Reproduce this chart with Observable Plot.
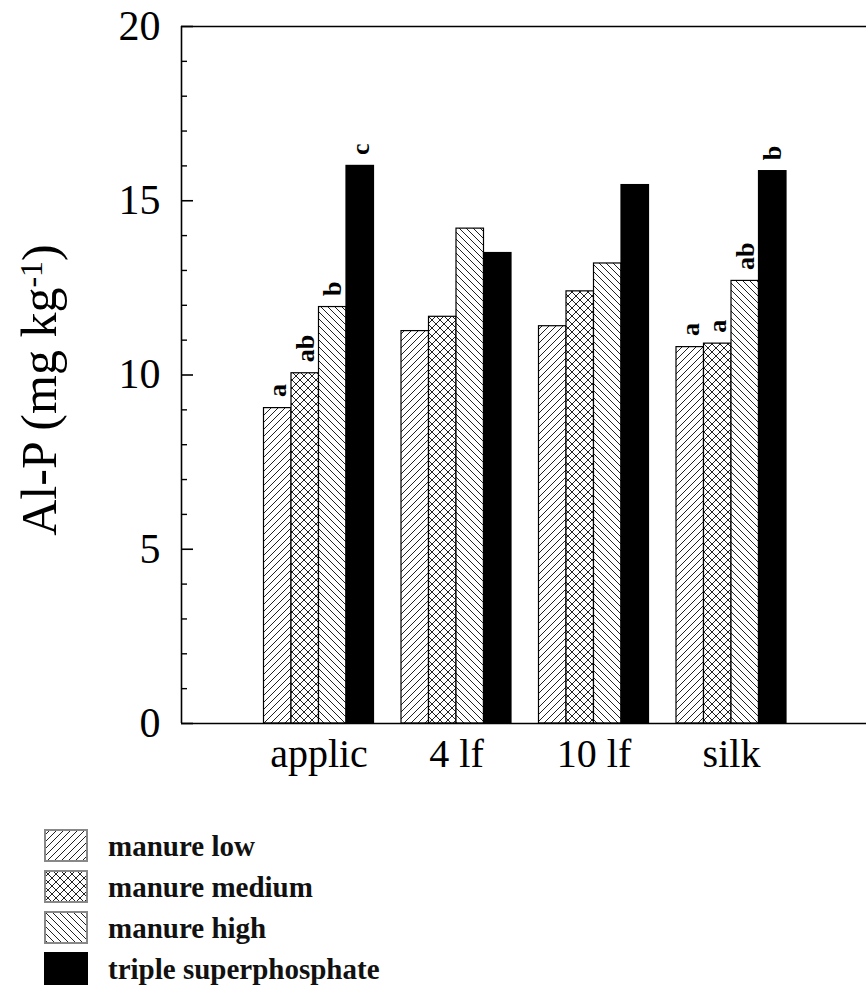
<!DOCTYPE html>
<html>
<head>
<meta charset="utf-8">
<script src="https://cdn.jsdelivr.net/npm/d3@7"></script>
<script src="https://cdn.jsdelivr.net/npm/@observablehq/plot@0.6"></script>
<style>
  html, body { margin: 0; padding: 0; background: #fff; }
  #wrap { position: relative; width: 866px; height: 994px; overflow: hidden; }
  #legend { position: absolute; left: 44px; top: 829px; }
  .row { display: flex; align-items: flex-start; height: 41px; }
  .row svg { display: block; }
  .row span { margin-left: 20px; font: bold 29px "Liberation Serif", serif; color: #111; line-height: 29px; margin-top: 3px; white-space: nowrap; }
</style>
</head>
<body>
<div id="wrap"><div id="chart"></div><div id="legend"></div></div>
<script>
// ---- data ----
const groups = ["applic", "4 lf", "10 lf", "silk"];
const series = ["manure low", "manure medium", "manure high", "triple superphosphate"];
const manureLow    = [9.05, 11.26, 11.40, 10.80];
const manureMedium = [10.05, 11.67, 12.40, 10.90];
const manureHigh   = [11.95, 14.20, 13.20, 12.70];
const tsp          = [16.00, 13.50, 15.45, 15.85];
const lettersLow    = ["a", "", "", "a"];
const lettersMedium = ["ab", "", "", "a"];
const lettersHigh   = ["b", "", "", "ab"];
const lettersTsp    = ["c", "", "", "b"];
const yMajorTicks = [0, 5, 10, 15, 20];
const yMinorTicks = [1, 2, 3, 4, 6, 7, 8, 9, 11, 12, 13, 14, 16, 17, 18, 19];
const yLabel = "Al-P (mg kg";
const yLabelSup = "-1";

// ---- table ----
const seriesValues = [manureLow, manureMedium, manureHigh, tsp];
const seriesLetters = [lettersLow, lettersMedium, lettersHigh, lettersTsp];
const patternIds = ["p-low", "p-med", "p-high", null];
const fills = patternIds.map(id => id ? `url(#${id})` : "black");
const rows = groups.flatMap((g, gi) => series.map((s, si) => ({
  group: g, gi, series: s, si,
  value: seriesValues[si][gi],
  letter: seriesLetters[si][gi]
})));
// dodge within a group: group k is centred on k+1, each bar 0.2 wide
const barX1 = d => d.gi + 1 - 0.4 + d.si * 0.2;
const barX2 = d => barX1(d) + 0.2;
const barXc = d => barX1(d) + 0.1;

const chart = Plot.plot({
  width: 866,
  height: 795,
  marginLeft: 181,
  marginRight: 0,
  marginTop: 26,
  marginBottom: 72,
  style: { fontFamily: "Liberation Serif, serif", background: "white", color: "black" },
  x: { domain: [0, 5], range: [181, 868.5], label: null },
  y: { domain: [0, 20], label: null },
  color: { type: "ordinal", domain: series, range: fills },
  marks: [
    Plot.rectY(rows, { x1: barX1, x2: barX2, y1: 0, y2: "value", fill: "series", stroke: "black", strokeWidth: 1.2 }),
    Plot.text(rows.filter(d => d.letter), {
      x: barXc, y: "value", text: "letter", rotate: -90,
      textAnchor: "start", lineAnchor: "middle", dy: -11,
      fontWeight: "bold", fontSize: 26, fill: "black"
    }),
    Plot.ruleY([0], { strokeWidth: 1.6 }),
    Plot.ruleY([20], { strokeWidth: 1.6 }),
    Plot.ruleX([0], { strokeWidth: 1.6 }),
    Plot.axisY(yMajorTicks, { anchor: "left", label: null, tickSize: -12, tickFormat: () => "", strokeWidth: 1.6 }),
    Plot.axisY(yMinorTicks, { anchor: "left", label: null, tickSize: -6, tickFormat: () => "", strokeWidth: 1.4 }),
    Plot.axisY(yMajorTicks, { anchor: "left", label: null, tickSize: 0, tickPadding: 21, fontSize: 42, fill: "black" }),
    Plot.axisX([1, 2, 3, 4], { anchor: "bottom", label: null, tickSize: 0, tickPadding: 15, fontSize: 40, fill: "black", tickFormat: d => groups[d - 1] })
  ]
});

// hatch patterns
const defs = d3.select(chart).insert("defs", ":first-child");
defs.html(`
  <pattern id="p-low" patternUnits="userSpaceOnUse" width="7" height="7">
    <rect width="7" height="7" fill="white"/>
    <path d="M-1,1 l2,-2 M0,7 l7,-7 M6,8 l2,-2" stroke="#222" stroke-width="1"/>
  </pattern>
  <pattern id="p-high" patternUnits="userSpaceOnUse" width="7" height="7">
    <rect width="7" height="7" fill="white"/>
    <path d="M-1,6 l2,2 M0,0 l7,7 M6,-1 l2,2" stroke="#222" stroke-width="1"/>
  </pattern>
  <pattern id="p-med" patternUnits="userSpaceOnUse" width="8" height="8">
    <rect width="8" height="8" fill="white"/>
    <path d="M-1,1 l2,-2 M0,8 l8,-8 M7,9 l2,-2 M-1,7 l2,2 M0,0 l8,8 M7,-1 l2,2" stroke="#222" stroke-width="1"/>
  </pattern>`);

// y-axis title with superscript
const t = d3.select(chart).append("text")
  .attr("transform", "translate(56,390) rotate(-90)")
  .attr("text-anchor", "middle")
  .attr("font-family", "Liberation Serif, serif")
  .attr("font-size", 50)
  .attr("fill", "black");
t.append("tspan").text(yLabel);
t.append("tspan").attr("font-size", 32).attr("dy", "-0.45em").text(yLabelSup);
t.append("tspan").attr("dy", "0.3em").text(")");

document.getElementById("chart").appendChild(chart);

// legend
const legend = d3.select("#legend");
series.forEach((s, i) => {
  const row = legend.append("div").attr("class", "row");
  const sw = row.append("svg").attr("width", 44).attr("height", 33);
  sw.append("rect").attr("x", 1).attr("y", 1).attr("width", 42).attr("height", 31)
    .attr("fill", fills[i]).attr("stroke", i === 3 ? "black" : "#888").attr("stroke-width", 2);
  row.append("span").text(s);
});
</script>
</body>
</html>
